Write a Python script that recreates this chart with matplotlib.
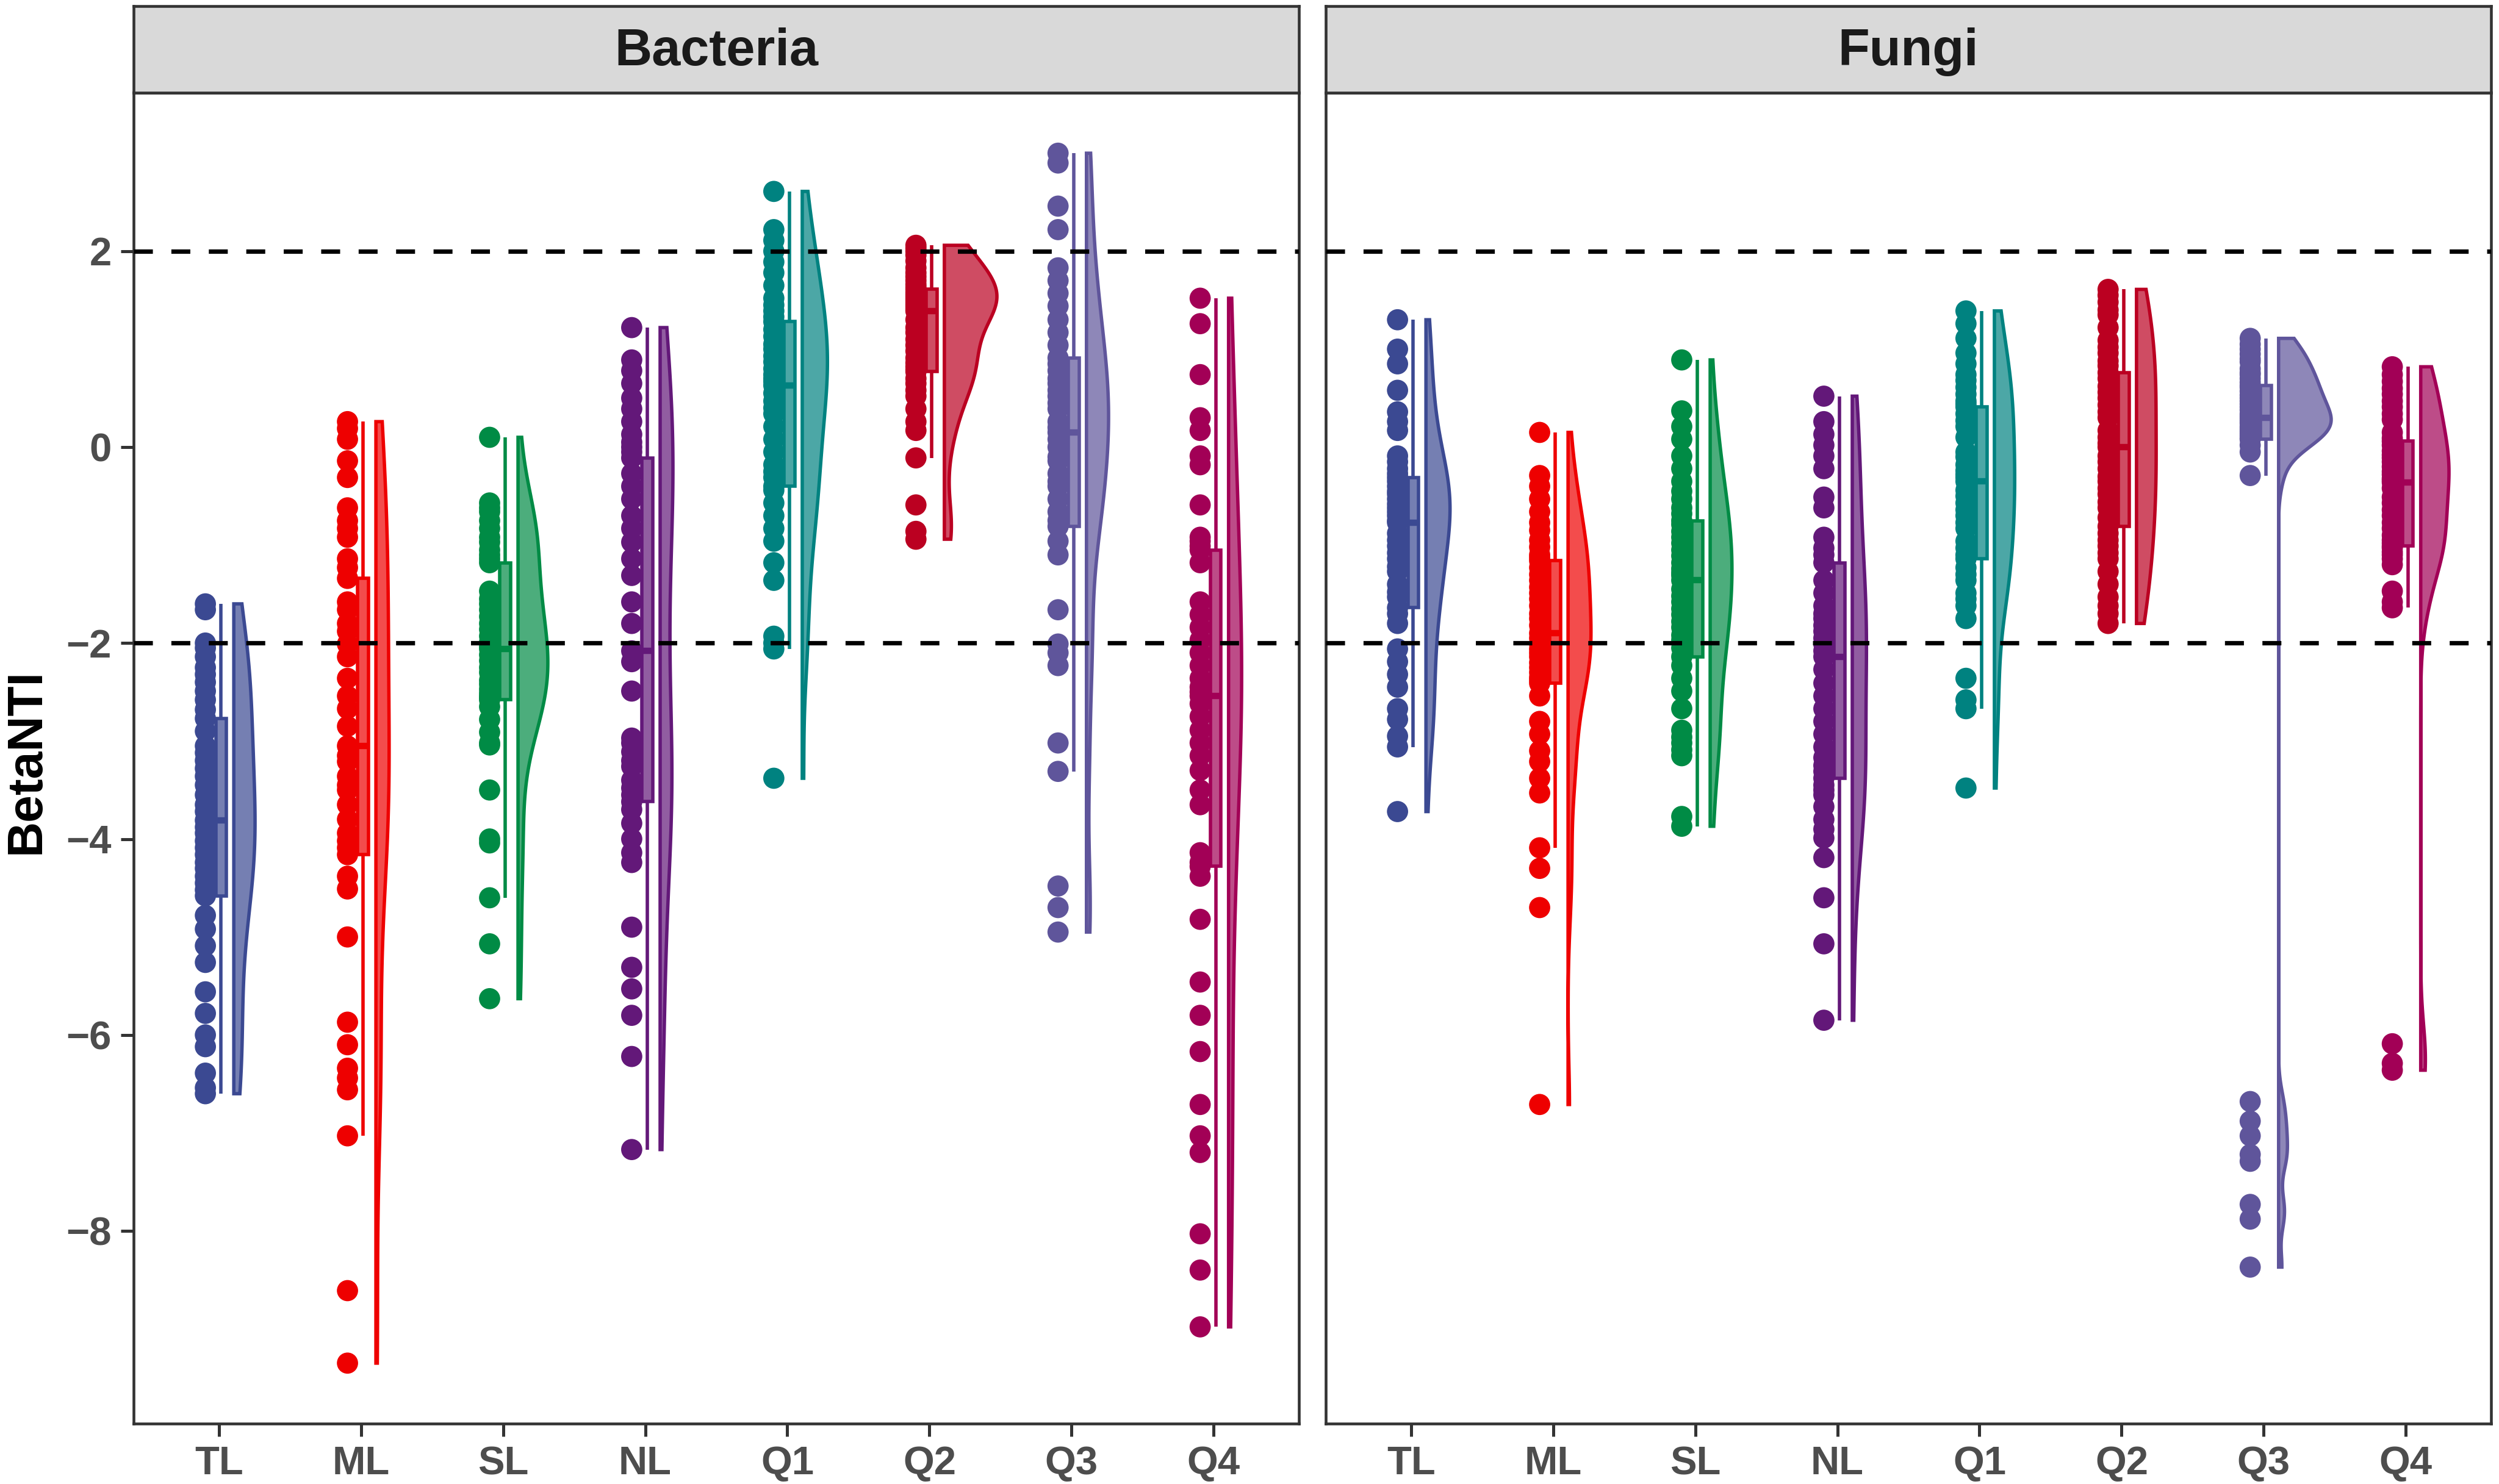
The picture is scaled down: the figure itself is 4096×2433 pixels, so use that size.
import numpy as np
import matplotlib
matplotlib.use("Agg")
import matplotlib.pyplot as plt
from matplotlib.patches import Rectangle, Polygon

plt.rcParams["font.family"] = ["Liberation Sans", "DejaVu Sans"]

groups = ["TL", "ML", "SL", "NL", "Q1", "Q2", "Q3", "Q4"]
colors = ["#3B4992", "#EE0000", "#008B45", "#631879",
          "#008280", "#BB0021", "#5F559B", "#A20056"]
panels = ["Bacteria", "Fungi"]

# ---- BetaNTI values (Bacteria) ----
bac_TL = [-1.60, -1.66, -2.00, -2.05, -2.14, -2.25, -2.32, -2.40, -2.49, -2.58, -2.68,
          -2.77, -2.90, -3.05, -3.12, -3.20, -3.28, -3.36, -3.45, -3.55, -3.65, -3.72,
          -3.81, -3.88, -3.94, -4.02, -4.09, -4.16, -4.24, -4.30, -4.38, -4.45, -4.52,
          -4.58, -4.78, -4.92, -5.09, -5.26, -5.56, -5.78, -6.00, -6.12, -6.39, -6.54, -6.60]
bac_ML = [0.26, 0.19, 0.08, -0.14, -0.31, -0.62, -0.75, -0.83, -0.92, -1.14, -1.23,
          -1.34, -1.58, -1.66, -1.80, -1.88, -2.01, -2.14, -2.36, -2.54, -2.67, -2.85,
          -3.05, -3.15, -3.21, -3.36, -3.45, -3.50, -3.65, -3.80, -3.94, -4.02, -4.09,
          -4.16, -4.38, -4.51, -5.00, -5.87, -6.10, -6.34, -6.44, -6.56, -7.03, -8.61, -9.35]
bac_SL = [0.10, -0.57, -0.62, -0.66, -0.75, -0.83, -0.92, -0.97, -1.05, -1.10, -1.14,
          -1.18, -1.47, -1.55, -1.60, -1.66, -1.73, -1.80, -1.86, -1.93, -1.99, -2.03,
          -2.06, -2.12, -2.18, -2.25, -2.30, -2.38, -2.42, -2.47, -2.51, -2.54, -2.56,
          -2.58, -2.65, -2.78, -2.91, -3.02, -3.04, -3.50, -4.00, -4.04, -4.60, -5.07, -5.63]
bac_NL = [1.22, 0.89, 0.78, 0.65, 0.50, 0.39, 0.26, 0.13, 0.05, 0.00, -0.05,
          -0.11, -0.27, -0.40, -0.53, -0.70, -0.83, -0.97, -1.14, -1.31, -1.58, -1.80,
          -2.08, -2.19, -2.49, -2.97, -3.02, -3.11, -3.20, -3.26, -3.40, -3.48, -3.55,
          -3.62, -3.70, -3.84, -4.00, -4.14, -4.24, -4.90, -5.31, -5.53, -5.80, -6.22, -7.17]
bac_Q1 = [2.61, 2.22, 2.11, 2.00, 1.89, 1.78, 1.65, 1.52, 1.45, 1.39, 1.33,
          1.28, 1.20, 1.13, 1.05, 1.00, 0.93, 0.87, 0.80, 0.74, 0.70, 0.67,
          0.63, 0.55, 0.47, 0.40, 0.34, 0.21, 0.08, -0.05, -0.18, -0.25, -0.31,
          -0.40, -0.44, -0.57, -0.70, -0.83, -0.96, -1.18, -1.36, -1.93, -2.00, -2.06, -3.38]
bac_Q2 = [2.06, 2.03, 2.00, 1.96, 1.90, 1.83, 1.78, 1.74, 1.70, 1.66, 1.63,
          1.61, 1.58, 1.56, 1.54, 1.52, 1.50, 1.48, 1.46, 1.44, 1.42, 1.40,
          1.39, 1.30, 1.22, 1.17, 1.10, 1.04, 0.98, 0.91, 0.86, 0.82, 0.79,
          0.77, 0.70, 0.65, 0.58, 0.52, 0.39, 0.26, 0.17, -0.11, -0.59, -0.86, -0.94]
bac_Q3 = [3.00, 2.90, 2.46, 2.22, 1.83, 1.70, 1.57, 1.44, 1.30, 1.17, 1.04,
          0.91, 0.85, 0.78, 0.70, 0.65, 0.58, 0.52, 0.45, 0.39, 0.26, 0.20,
          0.15, 0.08, 0.00, -0.10, -0.14, -0.27, -0.35, -0.40, -0.53, -0.66, -0.75,
          -0.81, -0.96, -1.10, -1.66, -2.01, -2.10, -2.23, -3.02, -3.31, -4.48, -4.70, -4.95]
bac_Q4 = [1.52, 1.26, 0.74, 0.30, 0.17, -0.09, -0.18, -0.59, -0.92, -0.96, -1.01,
          -1.05, -1.18, -1.58, -1.71, -1.84, -1.97, -2.10, -2.23, -2.36, -2.45, -2.50,
          -2.54, -2.62, -2.75, -2.89, -3.02, -3.15, -3.30, -3.50, -3.65, -4.14, -4.24,
          -4.28, -4.38, -4.82, -5.46, -5.80, -6.17, -6.71, -7.03, -7.20, -8.03, -8.40, -8.98]

# ---- BetaNTI values (Fungi) ----
fun_TL = [1.30, 1.00, 0.85, 0.58, 0.36, 0.26, 0.17, -0.09, -0.15, -0.22, -0.27,
          -0.31, -0.35, -0.40, -0.45, -0.48, -0.53, -0.58, -0.62, -0.66, -0.70, -0.75,
          -0.77, -0.88, -0.95, -1.01, -1.08, -1.14, -1.22, -1.27, -1.40, -1.48, -1.53,
          -1.64, -1.70, -1.80, -2.06, -2.19, -2.32, -2.45, -2.67, -2.78, -2.95, -3.06, -3.72]
fun_ML = [0.15, -0.29, -0.40, -0.53, -0.66, -0.77, -0.85, -0.95, -1.02, -1.10, -1.13,
          -1.16, -1.23, -1.30, -1.36, -1.43, -1.49, -1.55, -1.62, -1.70, -1.75, -1.82,
          -1.90, -1.95, -2.01, -2.06, -2.10, -2.14, -2.20, -2.25, -2.30, -2.35, -2.38,
          -2.41, -2.54, -2.80, -2.93, -3.10, -3.21, -3.38, -3.53, -4.09, -4.30, -4.70, -6.71]
fun_SL = [0.89, 0.37, 0.21, 0.08, -0.09, -0.22, -0.35, -0.45, -0.53, -0.62, -0.68,
          -0.75, -0.79, -0.86, -0.92, -0.98, -1.05, -1.11, -1.18, -1.24, -1.28, -1.31,
          -1.36, -1.45, -1.52, -1.58, -1.65, -1.71, -1.78, -1.84, -1.92, -1.97, -2.05,
          -2.14, -2.23, -2.36, -2.49, -2.67, -2.89, -2.96, -3.02, -3.09, -3.15, -3.77, -3.87]
fun_NL = [0.52, 0.26, 0.13, 0.02, -0.09, -0.22, -0.51, -0.62, -0.92, -1.03, -1.10,
          -1.18, -1.36, -1.49, -1.62, -1.70, -1.75, -1.82, -1.88, -1.95, -2.01, -2.08,
          -2.14, -2.27, -2.41, -2.54, -2.67, -2.80, -2.93, -3.06, -3.17, -3.25, -3.31,
          -3.38, -3.45, -3.50, -3.55, -3.67, -3.80, -3.90, -3.99, -4.19, -4.60, -5.07, -5.85]
fun_Q1 = [1.39, 1.26, 1.11, 0.96, 0.85, 0.74, 0.68, 0.61, 0.54, 0.47, 0.44,
          0.41, 0.34, 0.27, 0.21, 0.10, -0.05, -0.10, -0.18, -0.24, -0.28, -0.31,
          -0.35, -0.44, -0.50, -0.57, -0.64, -0.70, -0.77, -0.83, -0.96, -1.03, -1.10,
          -1.14, -1.23, -1.30, -1.36, -1.49, -1.55, -1.62, -1.75, -2.36, -2.58, -2.67, -3.48]
fun_Q2 = [1.61, 1.55, 1.48, 1.40, 1.35, 1.22, 1.09, 1.02, 0.96, 0.88, 0.83,
          0.76, 0.70, 0.62, 0.56, 0.50, 0.43, 0.36, 0.30, 0.17, 0.10, 0.04,
          0.00, -0.09, -0.15, -0.22, -0.30, -0.35, -0.42, -0.48, -0.56, -0.62, -0.72,
          -0.81, -0.88, -0.95, -1.01, -1.08, -1.14, -1.27, -1.40, -1.53, -1.62, -1.70, -1.80]
fun_Q3 = [1.11, 1.05, 1.00, 0.95, 0.90, 0.87, 0.80, 0.76, 0.74, 0.70, 0.66,
          0.63, 0.61, 0.57, 0.53, 0.50, 0.47, 0.44, 0.41, 0.38, 0.34, 0.32,
          0.30, 0.28, 0.26, 0.24, 0.21, 0.19, 0.17, 0.15, 0.13, 0.11, 0.09,
          0.08, 0.02, -0.05, -0.29, -6.68, -6.88, -7.03, -7.22, -7.29, -7.73, -7.88, -8.37]
fun_Q4 = [0.82, 0.74, 0.67, 0.60, 0.54, 0.47, 0.41, 0.34, 0.28, 0.15, 0.09,
          0.06, 0.02, -0.04, -0.08, -0.11, -0.15, -0.20, -0.25, -0.28, -0.32, -0.34,
          -0.36, -0.42, -0.51, -0.57, -0.64, -0.70, -0.77, -0.83, -0.90, -0.95, -0.98,
          -1.01, -1.03, -1.07, -1.10, -1.14, -1.20, -1.47, -1.58, -1.64, -6.09, -6.29, -6.36]

bacteria = [bac_TL, bac_ML, bac_SL, bac_NL, bac_Q1, bac_Q2, bac_Q3, bac_Q4]
fungi = [fun_TL, fun_ML, fun_SL, fun_NL, fun_Q1, fun_Q2, fun_Q3, fun_Q4]
thresholds = [-2, 2]


def bw_nrd0(v):
    sd = v.std(ddof=1)
    q75, q25 = np.percentile(v, [75, 25])
    lo = min(sd, (q75 - q25) / 1.34)
    if lo <= 0:
        lo = sd if sd > 0 else 1.0
    return 0.9 * lo * len(v) ** -0.2


def kde(v, grid):
    bw = bw_nrd0(v)
    z = (grid[:, None] - v[None, :]) / bw
    return np.exp(-0.5 * z ** 2).sum(axis=1) / (len(v) * bw * np.sqrt(2 * np.pi))


W, H = 4096, 2433
fig = plt.figure(figsize=(W / 100, H / 100), dpi=100)
fig.patch.set_facecolor("white")

all_vals = np.concatenate([np.asarray(g) for g in bacteria + fungi])
span = all_vals.max() - all_vals.min()
ylim = (all_vals.min() - 0.05 * span, all_vals.max() + 0.05 * span)

lefts = [219, 2173]
pw = 1910
ax_bottom, ax_top = 2334, 152
strip_top = 10

dark = "#333333"
LW = 4.0

for p, (name, data) in enumerate(zip(panels, [bacteria, fungi])):
    ax = fig.add_axes([lefts[p] / W, 1 - ax_bottom / H, pw / W, (ax_bottom - ax_top) / H])
    ax.set_facecolor("white")

    dens = []
    for vals in data:
        v = np.asarray(vals, dtype=float)
        grid = np.linspace(v.min(), v.max(), 512)
        dens.append((grid, kde(v, grid)))
    dmax = max(d.max() for _, d in dens)

    for i, (vals, col) in enumerate(zip(data, colors)):
        x = i + 1
        v = np.asarray(vals, dtype=float)

        # half violin on the right
        grid, d = dens[i]
        w = d / dmax * 0.37
        base = x + 0.105
        xs = np.concatenate([[base], base + w, [base]])
        ys = np.concatenate([[grid[0]], grid, [grid[-1]]])
        ax.add_patch(Polygon(np.column_stack([xs, ys]), closed=True,
                             facecolor=col, alpha=0.7, edgecolor="none", zorder=2))
        ax.add_patch(Polygon(np.column_stack([xs, ys]), closed=True,
                             facecolor="none", edgecolor=col, lw=LW, zorder=2.1,
                             joinstyle="miter"))

        # narrow boxplot
        q1, med, q3 = np.percentile(v, [25, 50, 75])
        iqr = q3 - q1
        lo_w = v[v >= q1 - 1.5 * iqr].min()
        hi_w = v[v <= q3 + 1.5 * iqr].max()
        bx = x + 0.015
        bw = 0.075
        ax.plot([bx, bx], [q3, hi_w], color=col, lw=LW, solid_capstyle="butt", zorder=3)
        ax.plot([bx, bx], [q1, lo_w], color=col, lw=LW, solid_capstyle="butt", zorder=3)
        ax.add_patch(Rectangle((bx - bw / 2, q1), bw, q3 - q1, facecolor=col, alpha=0.7,
                               edgecolor="none", zorder=3.1))
        ax.add_patch(Rectangle((bx - bw / 2, q1), bw, q3 - q1, facecolor="none",
                               edgecolor=col, lw=LW, zorder=3.2))
        ax.plot([bx - bw / 2, bx + bw / 2], [med, med], color=col, lw=7.5,
                solid_capstyle="butt", zorder=3.3)

        # raw points on the left
        ax.scatter(np.full(len(v), x - 0.095), v, s=25 ** 2, color=col,
                   edgecolors="none", zorder=4)

    for t in thresholds:
        ax.axhline(t, color="black", lw=5.2, dashes=(4.3, 4.2), zorder=5)

    ax.set_xlim(0.4, 8.6)
    ax.set_ylim(*ylim)
    ax.set_xticks(range(1, 9))
    ax.set_xticklabels(groups)
    ax.set_yticks([-8, -6, -4, -2, 0, 2])
    if p == 1:
        ax.set_yticklabels([])
    ax.tick_params(axis="both", length=15, width=3.6, color=dark, pad=11,
                   labelsize=47, labelcolor="#4D4D4D")
    if p == 1:
        ax.tick_params(axis="y", length=0)
    for lab in ax.get_xticklabels() + ax.get_yticklabels():
        lab.set_fontweight("bold")
    for s in ax.spines.values():
        s.set_color(dark)
        s.set_linewidth(3.3)

    # facet strip
    sx = fig.add_axes([lefts[p] / W, 1 - ax_top / H, pw / W, (ax_top - strip_top) / H])
    sx.set_facecolor("#D9D9D9")
    sx.set_xticks([])
    sx.set_yticks([])
    for s in sx.spines.values():
        s.set_color(dark)
        s.set_linewidth(3.3)
    sx.text(0.5, 0.47, name, ha="center", va="center", fontsize=61,
            fontweight="bold", color="#1A1A1A", transform=sx.transAxes)

fig.text(44 / W, 1 - 1248 / H, "BetaNTI", rotation=90, ha="center", va="center",
         fontsize=58, fontweight="bold", color="black")

fig.savefig("out.png", dpi=100)
